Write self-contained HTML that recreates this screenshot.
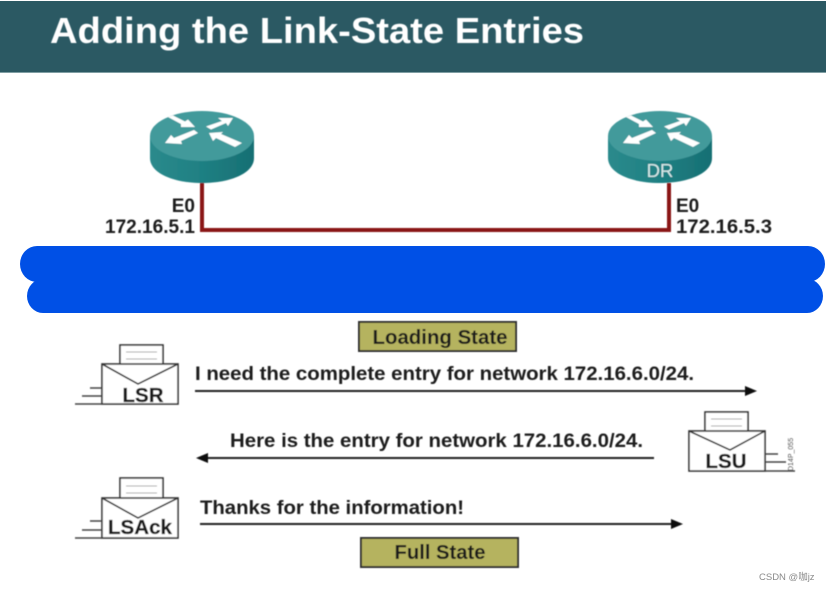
<!DOCTYPE html>
<html><head><meta charset="utf-8"><style>
html,body{margin:0;padding:0;background:#fff;width:826px;height:591px;overflow:hidden}
svg{display:block}
text{font-family:"Liberation Sans","Noto Sans CJK SC",sans-serif;font-weight:bold;fill:#1a1a1a}
</style></head><body>
<svg width="826" height="591" viewBox="0 0 826 591" xmlns="http://www.w3.org/2000/svg">
<defs>
<filter id="b" x="-5%" y="-5%" width="110%" height="110%"><feGaussianBlur stdDeviation="0.45"/></filter>
<linearGradient id="side" x1="0" x2="1" y1="0" y2="0"><stop offset="0" stop-color="#2b8a8c"/><stop offset=".5" stop-color="#1f8083"/><stop offset="1" stop-color="#176f73"/></linearGradient>
<g id="router">
<path d="M-52 0V22C-52 37-29 47 0 47S52 37 52 22V0Z" fill="url(#side)"/>
<ellipse cx="0" cy="0" rx="52" ry="25" fill="#429a9b"/>
<path d="M-34-19L-29-20.500L-17-14.500L-14-16.500L-7-9L-21-9L-21-12Z" fill="#fff"/>
<path d="M31-18L16-18L20-15L4-9.500L9-6.500L24-13L26-10Z" fill="#fff"/>
<path d="M-37 7L-31-1L-28 2L-8-6L-4-3L-21 5L-20 8Z" fill="#fff"/>
<path d="M7-3L21-4L19-2L40 7L33 11L14 2L11 5Z" fill="#fff"/>
</g>
</defs>

<rect width="826" height="591" fill="#fff"/>
<rect x="0" y="1" width="826" height="72" fill="#2b5963"/>
<rect x="0" y="72" width="826" height="1" fill="#7f9ea3"/>
<g filter="url(#b)">
<text x="50" y="43" font-size="36" textLength="534" lengthAdjust="spacingAndGlyphs" style="fill:#fff">Adding the Link-State Entries</text>

<path d="M202 183V230H669V183" fill="none" stroke="#8a1418" stroke-width="4"/>
<use href="#router" x="202" y="136"/>
<use href="#router" x="660" y="136"/>
<text x="660" y="177" font-size="18.500" text-anchor="middle" style="fill:#d5e8e8;font-weight:normal">DR</text>

<text x="195" y="212" font-size="19" text-anchor="end">E0</text>
<text x="195" y="233" font-size="19" text-anchor="end" textLength="90" lengthAdjust="spacingAndGlyphs">172.16.5.1</text>
<text x="676" y="212" font-size="19">E0</text>
<text x="676" y="233" font-size="19" textLength="96" lengthAdjust="spacingAndGlyphs">172.16.5.3</text>

<rect x="359" y="322" width="157" height="29" fill="#b5b35f" stroke="#333" stroke-width="2"/>
<text x="440" y="344" font-size="20" text-anchor="middle" textLength="135" lengthAdjust="spacingAndGlyphs">Loading State</text>

<!-- LSR -->
<rect x="120" y="345" width="43" height="21" fill="#fff" stroke="#333" stroke-width="1.600"/>
<path d="M126 352H157M126 359H157" stroke="#aaa" stroke-width="1"/>
<rect x="102" y="364" width="76" height="40" fill="#fff" stroke="#333" stroke-width="1.600"/>
<path d="M102 364L138 384L178 364" fill="none" stroke="#333" stroke-width="1.600"/>
<path d="M90 388H102M82 396H102M75 404H102" stroke="#444" stroke-width="1.400"/>
<text x="143" y="402" font-size="20.500" text-anchor="middle" stroke="#1a1a1a" stroke-width=".3">LSR</text>
<text x="195" y="380" font-size="19" textLength="499" lengthAdjust="spacingAndGlyphs">I need the complete entry for network 172.16.6.0/24.</text>
<path d="M195 391H746" stroke="#222" stroke-width="2"/><path d="M757 391L745 386V396Z" fill="#111"/>

<!-- LSU -->
<rect x="705" y="412" width="43" height="21" fill="#fff" stroke="#333" stroke-width="1.600"/>
<path d="M711 419H742M711 426H742" stroke="#aaa" stroke-width="1"/>
<rect x="689" y="431" width="76" height="40" fill="#fff" stroke="#333" stroke-width="1.600"/>
<path d="M689 431L730 450L765 431" fill="none" stroke="#333" stroke-width="1.600"/>
<path d="M765 454H778M765 462H786M765 471H795" stroke="#444" stroke-width="1.400"/>
<text x="726" y="468" font-size="20.500" text-anchor="middle" stroke="#1a1a1a" stroke-width=".3">LSU</text>
<text transform="translate(793 471) rotate(-90)" font-size="7" style="font-weight:normal;fill:#555">D14P_055</text>
<text x="230" y="447" font-size="19" textLength="413" lengthAdjust="spacingAndGlyphs">Here is the entry for network 172.16.6.0/24.</text>
<path d="M208 458H654" stroke="#222" stroke-width="2"/><path d="M196 458L208 453V463Z" fill="#111"/>

<!-- LSAck -->
<rect x="120" y="478" width="43" height="22" fill="#fff" stroke="#333" stroke-width="1.600"/>
<path d="M126 486H157M126 493H157" stroke="#aaa" stroke-width="1"/>
<rect x="102" y="498" width="76" height="40" fill="#fff" stroke="#333" stroke-width="1.600"/>
<path d="M102 498L138 518L178 498" fill="none" stroke="#333" stroke-width="1.600"/>
<path d="M90 521H102M82 530H102M75 538H102" stroke="#444" stroke-width="1.400"/>
<text x="140" y="534" font-size="20.500" text-anchor="middle" textLength="64" lengthAdjust="spacingAndGlyphs" stroke="#1a1a1a" stroke-width=".3">LSAck</text>
<text x="200" y="514" font-size="19" textLength="264" lengthAdjust="spacingAndGlyphs">Thanks for the information!</text>
<path d="M200 524H672" stroke="#222" stroke-width="2"/><path d="M683 524L671 519V529Z" fill="#111"/>

<rect x="361" y="538" width="157" height="29" fill="#b5b35f" stroke="#333" stroke-width="2"/>
<text x="440" y="559" font-size="20" text-anchor="middle" textLength="91" lengthAdjust="spacingAndGlyphs">Full State</text>
</g>

<rect x="20" y="246" width="805" height="36" rx="17" ry="18" fill="#0050e6"/>
<rect x="27" y="279" width="796" height="34" rx="16" ry="17" fill="#0050e6"/>
<text x="759" y="580" font-size="9.500" style="font-weight:normal;fill:#8a8a8a">CSDN @咖jz</text>
</svg>
</body></html>
